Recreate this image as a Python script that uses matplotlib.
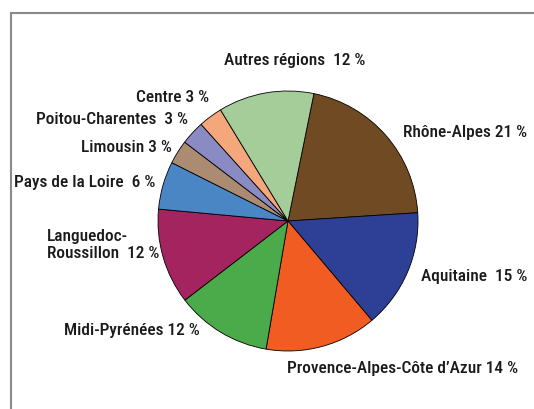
import matplotlib as mpl
mpl.use('Agg')
import matplotlib.pyplot as plt
from matplotlib.lines import Line2D

# data
regions = ['Rhône-Alpes', 'Aquitaine', 'Provence-Alpes-Côte d\u2019Azur', 'Midi-Pyrénées',
           'Languedoc-\nRoussillon', 'Pays de la Loire', 'Limousin', 'Poitou-Charentes',
           'Centre', 'Autres régions']
shares = [21, 15, 14, 12, 12, 6, 3, 3, 3, 12]
colors = ['#6f4a22', '#2e4096', '#f15c22', '#4baa4a', '#a3245e',
          '#4a85c4', '#ab8b72', '#8a8bc2', '#f5a77c', '#a4cd9a']

# label anchor positions in pixels (x, y from top), alignment, gap before value
label_pos = [(527, 133, 'right', ' '), (527, 276, 'right', '  '), (287, 368, 'left', ' '),
             (64, 330, 'left', ' '), (47, 245, 'left', '  '), (155, 183, 'right', '  '),
             (172, 147, 'right', ' '), (188, 120, 'right', '  '), (209, 97, 'right', ' '),
             (295, 60, 'center', '  ')]

W, H = 534, 409
fig = plt.figure(figsize=(W / 100, H / 100), dpi=100)
ax = fig.add_axes([0, 0, 1, 1])

cx, cy, r = 288, H - 221, 130
ax.pie(shares, colors=colors, startangle=78.5, counterclock=False,
       center=(cx, cy), radius=r, frame=True,
       wedgeprops=dict(edgecolor='black', linewidth=0.6))
ax.set_xlim(0, W)
ax.set_ylim(0, H)
ax.axis('off')

# gray frame (open at right/bottom)
ax.add_line(Line2D([11, 11], [0, H - 13], color='#8a8a8a', lw=1.5))
ax.add_line(Line2D([11, W], [H - 13, H - 13], color='#8a8a8a', lw=1.5))

font = ['Roboto Condensed', 'DejaVu Sans']
for name, v, (x, y, ha, gap) in zip(regions, shares, label_pos):
    ax.text(x, H - y, '%s%s%d %%' % (name, gap, v), ha=ha, va='center', fontsize=12.5,
            family=font, fontweight='medium', color='#1a1a1a', linespacing=1.25)

fig.savefig('out.png', dpi=100)
